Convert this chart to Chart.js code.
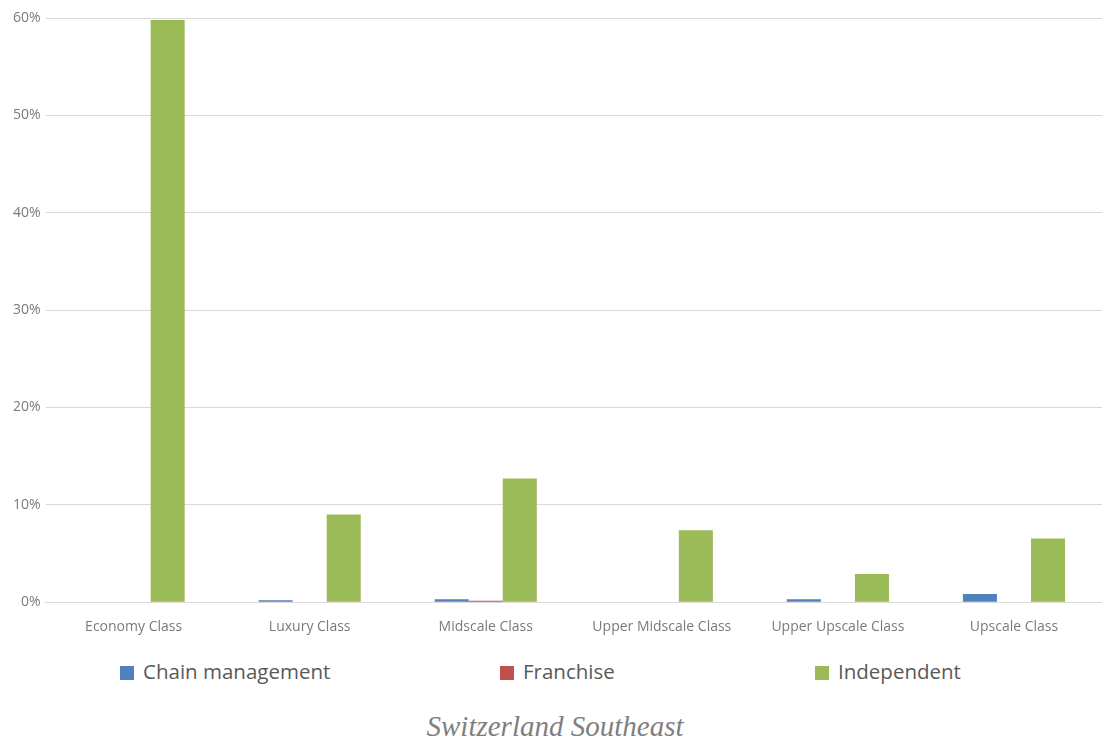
<!DOCTYPE html>
<html>
<head>
<meta charset="utf-8">
<script src="https://cdn.jsdelivr.net/npm/chart.js@4/dist/chart.umd.min.js"></script>
<style>
  body { margin: 0; background: #fff; width: 1102px; height: 743px; overflow: hidden; position: relative; font-family: "Open Sans", sans-serif; }
  #wrap { position: absolute; left: 0; top: 0; width: 1102px; height: 651px; }
  .leg { position: absolute; top: 658px; font-size: 20.5px; color: #595959; line-height: 26px; white-space: nowrap; }
  .leg span { display: inline-block; width: 14px; height: 14px; margin-right: 9px; vertical-align: -1px; }
  #title { position: absolute; top: 710px; left: 0; width: 1110px; text-align: center; font-family: "Liberation Serif", serif; font-style: italic; font-size: 29px; color: #7f7f7f; }
</style>
</head>
<body>
<div id="wrap"><canvas id="grafico"></canvas></div>
<div class="leg" style="left:120px"><span style="background:#4F81BD"></span>Chain management</div>
<div class="leg" style="left:500px"><span style="background:#C0504D"></span>Franchise</div>
<div class="leg" style="left:815px"><span style="background:#9BBB59"></span>Independent</div>
<div id="title">Switzerland Southeast</div>
<script>
var categorias = ["Economy Class", "Luxury Class", "Midscale Class", "Upper Midscale Class", "Upper Upscale Class", "Upscale Class"];
var chainManagement = [0, 0.2, 0.3, 0, 0.3, 0.85];
var franchise = [0, 0, 0.15, 0, 0, 0];
var independent = [59.8, 9.0, 12.7, 7.4, 2.9, 6.55];
var ticksY = [0, 10, 20, 30, 40, 50, 60];

var ctx = document.getElementById("grafico");
var data = {
	labels: categorias,
	datasets: [
	{ label: "Chain management", data: chainManagement, backgroundColor: "#4F81BD" },
	{ label: "Franchise", data: franchise, backgroundColor: "#C0504D" },
	{ label: "Independent", data: independent, backgroundColor: "#9BBB59" }
	]
};
var options = {
	responsive: true,
	maintainAspectRatio: false,
	animation: false,
	layout: { padding: { left: 8, right: 0, top: 18, bottom: 0 } },
	datasets: { bar: { barPercentage: 1, categoryPercentage: 0.58 } },
	plugins: { legend: { display: false }, tooltip: { enabled: false } },
	scales: {
		x: {
			grid: { display: false, drawTicks: false },
			border: { color: "#d9d9d9" },
			ticks: { color: "#7a7a7a", font: { family: "Open Sans", size: 14 }, padding: 16, maxRotation: 0 }
		},
		y: {
			min: ticksY[0],
			max: ticksY[ticksY.length - 1],
			grid: { color: "#d9d9d9", drawTicks: false },
			border: { display: false },
			ticks: {
				stepSize: 10,
				color: "#7a7a7a",
				font: { family: "Open Sans", size: 14 },
				padding: 5,
				callback: function(v) { return v + "%"; }
			}
		}
	}
};
var grafico = new Chart(ctx, { type: "bar", data: data, options: options });
</script>
</body>
</html>
